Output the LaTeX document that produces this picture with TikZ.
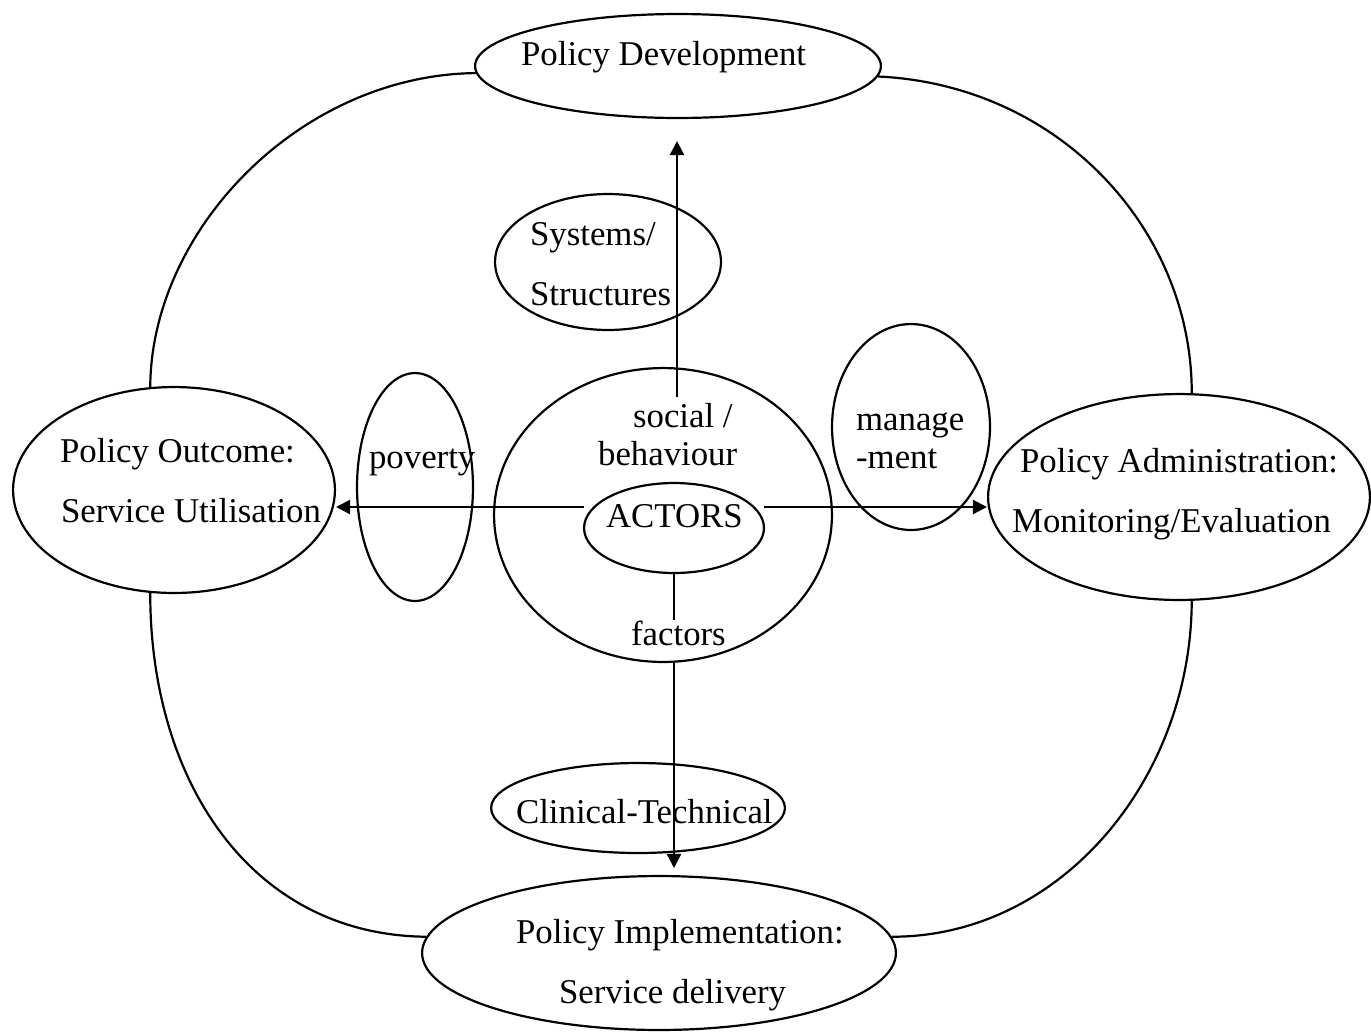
\documentclass[tikz,border=0pt]{standalone}
\usepackage{fontspec}
\setmainfont{Liberation Serif}
\usetikzlibrary{shapes.geometric,arrows.meta}
\begin{document}
\begin{tikzpicture}[x=0.02cm,y=-0.02cm,line width=1.25pt,
  ell/.style 2 args={ellipse,draw,inner sep=0pt,minimum width={0.04cm*#1},minimum height={0.04cm*#2}},
  lbl/.style={anchor=base west,inner sep=0pt,font=\fontsize{19.8}{24}\selectfont},
  arr/.style={-{Triangle[length=8pt,width=8pt]}}]
\useasboundingbox (0,0) rectangle (1371,1032);
% ellipses
\node[ell={203}{52}] (pd) at (678,66) {};
\node[ell={113}{68}] (ss) at (608,262) {};
\node[ell={169}{147}] (big) at (663,515) {};
\node[ell={90}{45}] (ac) at (674,528) {};
\node[ell={58}{114}] (pov) at (415,487) {};
\node[ell={79}{103}] (man) at (911,427) {};
\node[ell={161}{103}] (po) at (174,490) {};
\node[ell={191}{103}] (pa) at (1179,497) {};
\node[ell={147}{45}] (ct) at (638,808) {};
\node[ell={237}{77}] (pi) at (659,953) {};
% texts
\node[lbl] (pdt) at (520,65) {Policy Development};
\node[lbl] (sst1) at (529,245) {Systems/};
\node[lbl] (sst2) at (529,305) {Structures};
\node[lbl] (soc1) at (632,427) {social /};
\node[lbl] (soc2) at (597,465) {behaviour};
\node[lbl] (act) at (605,527) {ACTORS};
\node[lbl] (fac) at (630,645) {factors};
\node[lbl] (povt) at (368,468) {poverty};
\node[lbl] (man1) at (855,430) {manage};
\node[lbl] (man2) at (855,468) {-ment};
\node[lbl] (po1) at (59,462) {Policy Outcome:};
\node[lbl] (po2) at (60,522) {Service Utilisation};
\node[lbl] (pa1) at (1019,472) {Policy Administration:};
\node[lbl] (pa2) at (1011,532) {Monitoring/Evaluation};
\node[lbl] (ctt) at (515,823) {Clinical-Technical};
\node[lbl] (pi1) at (515,943) {Policy Implementation:};
\node[lbl] (pi2) at (558,1003) {Service delivery};
% outer ring
\draw (pd.-178) .. controls (300,75) and (151,230) .. (po.103);
\draw (pd.-3) .. controls (1060,85) and (1192,230) .. (pa.83);
\draw (po.-103) .. controls (150,780) and (250,935) .. (pi.176);
\draw (pa.-83) .. controls (1191,780) and (1060,937) .. (pi.4);
% arrows
\coordinate (upS) at (677,397);
\coordinate (upE) at (677,141);
\coordinate (lS) at (584,507);
\coordinate (rS) at (764,507);
\coordinate (dM) at (674,620);
\coordinate (dS) at (674,662);
\coordinate (dE) at (674,868);
\draw[arr] (upS) -- (upE);
\draw[arr] (lS) -- (po.east |- lS);
\draw[arr] (rS) -- (pa.west |- rS);
\draw (ac.south -| dM) -- (dM);
\draw[arr] (dS) -- (dE);
\end{tikzpicture}
\end{document}
